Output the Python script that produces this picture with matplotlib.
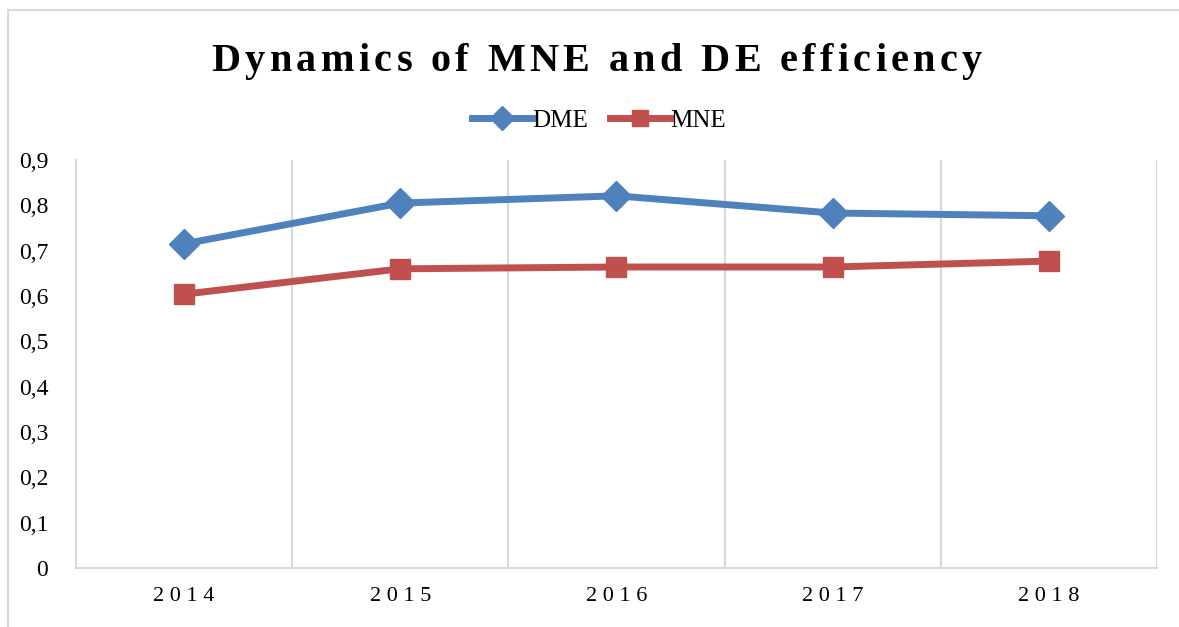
import matplotlib
matplotlib.use("Agg")
import matplotlib.pyplot as plt
from matplotlib.lines import Line2D
from matplotlib.font_manager import FontProperties

years = ["2014", "2015", "2016", "2017", "2018"]
dme = [0.715, 0.805, 0.821, 0.783, 0.777]
mne = [0.604, 0.660, 0.664, 0.664, 0.677]
yticks = [0, 0.1, 0.2, 0.3, 0.4, 0.5, 0.6, 0.7, 0.8, 0.9]
title = "Dynamics of MNE and DE efficiency"

BLUE = "#4F81BD"
RED = "#C0504D"
GRID = "#D9D9D9"
SERIF = ["Liberation Serif", "DejaVu Serif"]


def letterspaced(fig, text, xc, yc, width_px, prop):
    """Draw text char by char, spread to a given total width (px)."""
    r = fig.canvas.get_renderer()
    ws = []
    for ch in text:
        if ch == " ":
            w = r.get_text_width_height_descent("a a", prop, ismath=False)[0] \
                - r.get_text_width_height_descent("aa", prop, ismath=False)[0]
        else:
            w = r.get_text_width_height_descent(ch, prop, ismath=False)[0]
        ws.append(w)
    extra = (width_px - sum(ws)) / (len(text) - 1)
    W = fig.bbox.width
    xpos = xc * W - width_px / 2
    for ch, w in zip(text, ws):
        fig.text(xpos / W, yc, ch, ha="left", va="baseline",
                 fontproperties=prop)
        xpos += w + extra


fig = plt.figure(figsize=(11.79, 6.27), dpi=100)
ax = fig.add_axes([0.0645, 0.0941, 0.9168, 0.6507])

x = range(len(years))
ax.plot(x, dme, color=BLUE, lw=5, marker="D", ms=15, mec=BLUE,
        solid_capstyle="round", label="DME", zorder=3)
ax.plot(x, mne, color=RED, lw=5, marker="s", ms=15, mec=RED,
        solid_capstyle="round", label="MNE", zorder=3)

ax.set_xlim(-0.5, len(years) - 0.5)
ax.set_ylim(0, 0.9)
ax.set_yticks(yticks)
ax.set_yticklabels([("%g" % v).replace(".", ",") for v in yticks],
                   family=SERIF, fontsize=17)
ax.set_xticks(list(x))
ax.set_xticklabels([" ".join(y) for y in years], family=SERIF, fontsize=16)
ax.tick_params(length=0)
ax.tick_params(axis="x", pad=14)
ax.tick_params(axis="y", pad=20)

# vertical gridlines at category boundaries
for b in range(1, len(years) + 1):
    ax.axvline(b - 0.5, color=GRID, lw=1.5, zorder=1)
for s in ("top", "right"):
    ax.spines[s].set_visible(False)
ax.spines["left"].set_color(GRID)
ax.spines["left"].set_linewidth(1.5)
ax.spines["bottom"].set_color(GRID)
ax.spines["bottom"].set_linewidth(1.5)

tprop = FontProperties(family=SERIF, size=29, weight="bold")
letterspaced(fig, title, 0.506, 1 - 71 / 627, 770, tprop)

handles = [Line2D([], [], color=BLUE, lw=5, marker="D", ms=12, mec=BLUE),
           Line2D([], [], color=RED, lw=5, marker="s", ms=12, mec=RED)]
fig.legend(handles, ["DME", "MNE"], loc="center", bbox_to_anchor=(0.508, 0.808),
           ncol=2, frameon=False, prop={"family": SERIF, "size": 18},
           handlelength=2.4, handletextpad=0.0, columnspacing=0.9)

# outer chart border (only left and top visible in the crop)
fig.add_artist(Line2D([0.0068, 0.0068], [0, 0.984], color=GRID, lw=1.5,
                      transform=fig.transFigure))
fig.add_artist(Line2D([0.0068, 1.0], [0.984, 0.984], color=GRID, lw=1.5,
                      transform=fig.transFigure))

fig.savefig("out.png", dpi=100)
